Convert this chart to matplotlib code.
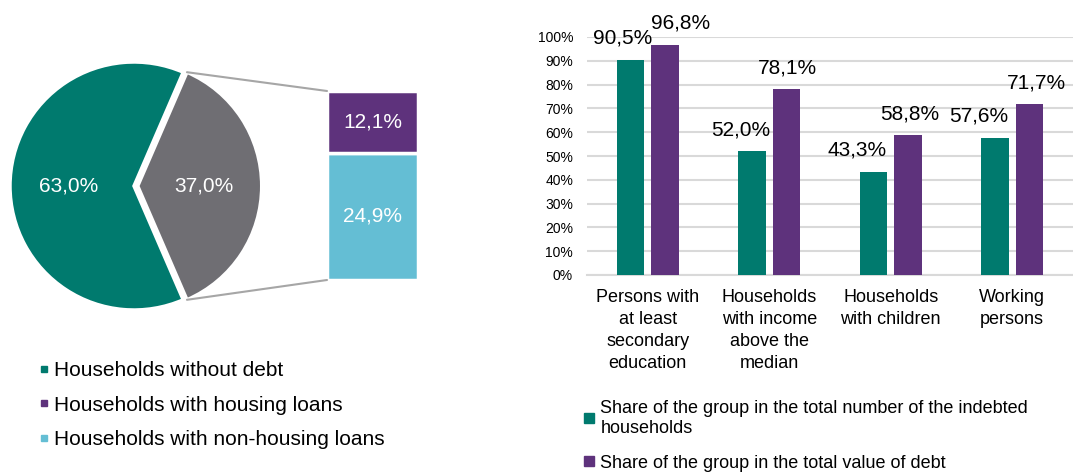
import numpy as np
import matplotlib.pyplot as plt
from matplotlib.lines import Line2D
from matplotlib.patches import ConnectionPatch

plt.rcParams['font.family'] = ['Liberation Sans', 'DejaVu Sans']

# pie: households with and without debt
pie_labels = ["Households without debt", "Households with debt"]
pie_values = [63.0, 37.0]

# breakdown of indebted households
loan_labels = ["Households with housing loans", "Households with non-housing loans"]
loan_values = [12.1, 24.9]

# bar chart
categories = ["Persons with\nat least\nsecondary\neducation",
              "Households\nwith income\nabove the\nmedian",
              "Households\nwith children",
              "Working\npersons"]
share_number = [90.5, 52.0, 43.3, 57.6]
share_value = [96.8, 78.1, 58.8, 71.7]
series_labels = ["Share of the group in the total number of the indebted\nhouseholds",
                 "Share of the group in the total value of debt"]

TEAL = "#007A6E"
PURPLE = "#5E327C"
GREY = "#6F6E73"
LIGHTBLUE = "#64BED4"
GRID = "#D9D9D9"

W, H = 1073, 472
fig = plt.figure(figsize=(W / 100, H / 100), dpi=100)


def px_axes(x0, y0, x1, y1):
    return fig.add_axes([x0 / W, 1 - y1 / H, (x1 - x0) / W, (y1 - y0) / H])


def pct(v):
    return f"{v:.1f}".replace(".", ",") + "%"


# ---- pie ----
ax_pie = px_axes(10, 62, 258, 310)
wedges, _, autotexts = ax_pie.pie(
    pie_values, colors=[TEAL, GREY], startangle=66.6, explode=[0, 0.03],
    autopct=pct, pctdistance=0.53, radius=1,
    wedgeprops=dict(edgecolor="white", linewidth=2.5),
    textprops=dict(color="white", fontsize=15))
ax_pie.set_xlim(-1, 1)
ax_pie.set_ylim(-1, 1)
ax_pie.set_aspect("auto")
ax_pie.axis("off")

# ---- stacked bar of the debt slice ----
ax_stack = px_axes(327, 91, 418, 280)
bottom = 0
stack_colors = [LIGHTBLUE, PURPLE]
for val, col in zip(loan_values[::-1], stack_colors):
    ax_stack.bar(0, val, bottom=bottom, width=1, color=col,
                 edgecolor="white", linewidth=2.5)
    ax_stack.text(0, bottom + val / 2, pct(val), ha="center", va="center",
                  color="white", fontsize=15)
    bottom += val
ax_stack.set_xlim(-0.5, 0.5)
ax_stack.set_ylim(0, sum(loan_values))
ax_stack.axis("off")

# connector lines from the debt wedge to the stacked bar
w = wedges[1]
cx, cy = w.center
for ang, ycorner in [(w.theta2, 1), (w.theta1, 0)]:
    a = np.deg2rad(ang)
    p = (cx + w.r * np.cos(a), cy + w.r * np.sin(a))
    con = ConnectionPatch(xyA=p, coordsA=ax_pie.transData,
                          xyB=(0, ycorner), coordsB=ax_stack.transAxes,
                          color="#A6A6A6", linewidth=1.5)
    fig.add_artist(con)

# pie legend
pie_handles = [Line2D([], [], marker="s", linestyle="none", markersize=5, color=c)
               for c in [TEAL, PURPLE, LIGHTBLUE]]
fig.legend(pie_handles, [pie_labels[0]] + loan_labels,
           loc="upper left", bbox_to_anchor=(38 / W, 1 - 361 / H),
           frameon=False, fontsize=15, handlelength=0.6, handletextpad=0.15,
           labelspacing=0.75, borderpad=0, borderaxespad=0)

# ---- bar chart ----
ax = px_axes(587, 37, 1073, 275)
x = np.arange(len(categories))
bw = 0.226
off = 0.142
num = np.array(share_number) / 100
val = np.array(share_value) / 100
ax.bar(x - off, num, width=bw, color=TEAL, zorder=3)
ax.bar(x + off, val, width=bw, color=PURPLE, zorder=3)

# label shifts (points) to keep neighbouring labels apart
num_shift = [-6, -8, -11.5, -12]
val_shift = [11.5, 1, 1, 5]
for i in range(len(categories)):
    ax.annotate(pct(share_number[i]), (x[i] - off, num[i]), xytext=(num_shift[i], 11.5),
                textcoords="offset points", ha="center", va="baseline", fontsize=15)
    ax.annotate(pct(share_value[i]), (x[i] + off, val[i]), xytext=(val_shift[i], 11.5),
                textcoords="offset points", ha="center", va="baseline", fontsize=15)

ax.set_xlim(-0.5, len(categories) - 0.5)
ax.set_ylim(0, 1)
ticks = np.arange(0, 1.01, 0.1)
ax.set_yticks(ticks)
ax.set_yticklabels([f"{int(round(t * 100))}%" for t in ticks], fontsize=10)
ax.set_xticks(x)
ax.set_xticklabels(categories, fontsize=13, linespacing=1.38)
ax.tick_params(axis="both", length=0)
ax.tick_params(axis="y", pad=10)
ax.tick_params(axis="x", pad=10)
ax.grid(axis="y", color=GRID, linewidth=1.5, zorder=0)
for s in ["top", "right", "left"]:
    ax.spines[s].set_visible(False)
ax.spines["bottom"].set_color(GRID)
ax.spines["bottom"].set_linewidth(1.5)

bar_handles = [Line2D([], [], marker="s", linestyle="none", markersize=7.5, color=c)
               for c in [TEAL, PURPLE]]
fig.legend(bar_handles, series_labels, loc="upper left",
           bbox_to_anchor=(584 / W, 1 - 400 / H), frameon=False, fontsize=13,
           handlelength=0.6, handletextpad=0.3, labelspacing=1.0,
           borderpad=0, borderaxespad=0)

fig.savefig("out.png", dpi=100)
